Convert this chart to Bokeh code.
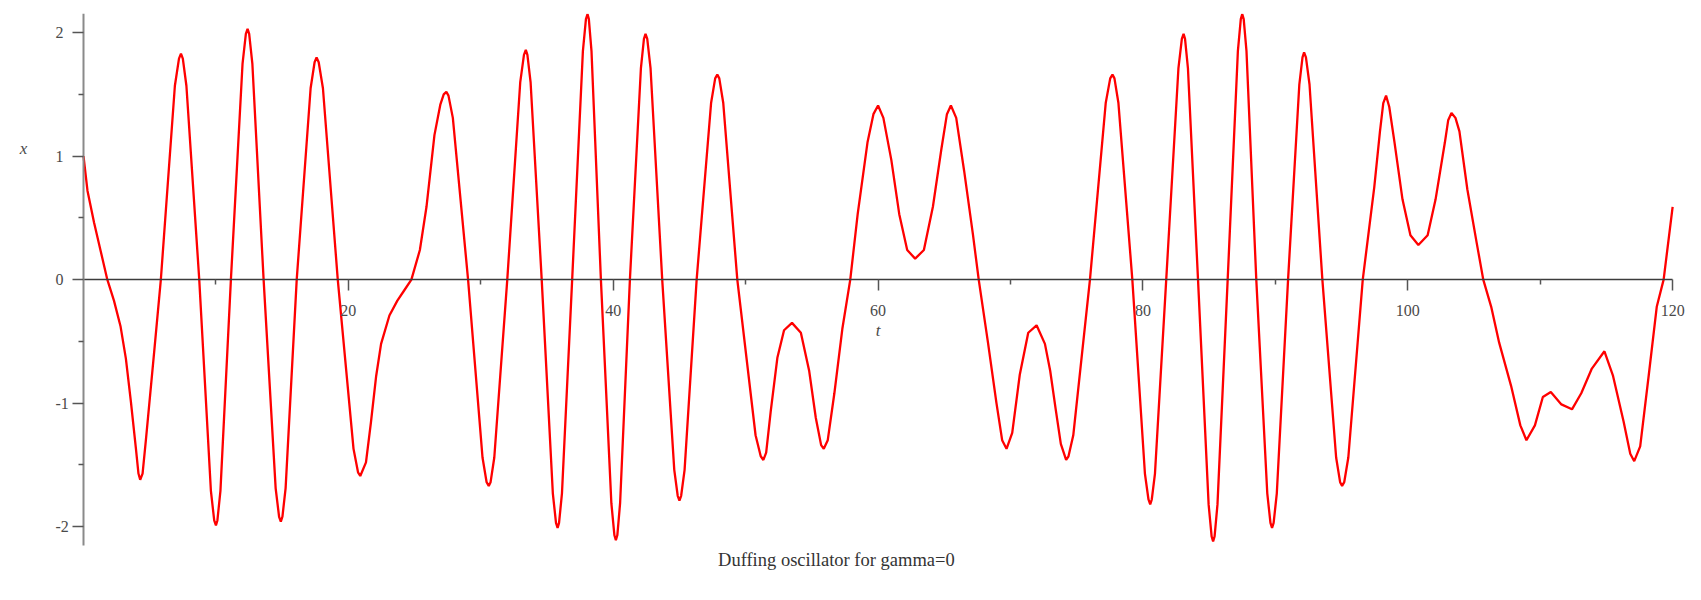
from bokeh.plotting import figure
from bokeh.models import Range1d, LinearAxis, FixedTicker, Label
from bokeh.embed import file_html
from bokeh.resources import INLINE

# ---- data (t, x) ----
t_vals = [0, 0.3, 0.8, 1.3, 1.8, 2.3, 2.8, 3.2, 3.58, 3.95, 4.15, 4.28, 4.46, 4.71, 5.34, 5.84,
          6.90, 7.21, 7.36, 7.50, 7.77, 8.74, 9.62, 9.87, 10.00, 10.11, 10.34, 11.13,
          12.01, 12.26, 12.39, 12.51, 12.75, 13.60, 14.51, 14.77, 14.90, 15.02, 15.26, 16.10,
          17.15, 17.45, 17.60, 17.76, 18.08, 19.20, 20.39, 20.73, 20.90, 21.33, 21.70, 22.10,
          22.47, 23.10, 23.70, 24.20, 24.76, 25.40, 25.90, 26.50, 26.95, 27.20, 27.40, 27.56,
          27.89, 29.04, 30.13, 30.44, 30.60, 30.74, 31.02, 32.00, 32.98, 33.26, 33.40, 33.52,
          33.76, 34.60, 35.44, 35.68, 35.80, 35.91, 36.13, 36.90, 37.71, 37.94, 38.06, 38.16,
          38.36, 39.07, 39.86, 40.09, 40.20, 40.31, 40.52, 41.26, 42.09, 42.32, 42.44, 42.57,
          42.82, 43.70, 44.61, 44.87, 45.00, 45.13, 45.39, 46.30, 47.39, 47.70, 47.86, 48.01,
          48.31, 49.37, 50.75, 51.14, 51.34, 51.55, 51.90, 52.40, 52.90, 53.50, 54.17, 54.80,
          55.30, 55.70, 55.90, 56.20, 56.70, 57.30, 57.90, 58.46, 59.20, 59.65, 60.00, 60.40,
          61.00, 61.60, 62.20, 62.80, 63.46, 64.14, 64.77, 65.20, 65.50, 65.90, 66.50, 67.17,
          67.60, 68.30, 68.94, 69.37, 69.70, 70.13, 70.70, 71.34, 71.97, 72.60, 73.00, 73.40,
          73.80, 74.20, 74.38, 74.74, 76.00, 77.19, 77.53, 77.70, 77.85, 78.15, 79.20, 80.15,
          80.42, 80.55, 80.67, 80.91, 81.76, 82.68, 82.94, 83.07, 83.18, 83.40, 84.16, 84.96,
          85.19, 85.30, 85.41, 85.63, 86.40, 87.17, 87.39, 87.50, 87.61, 87.82, 88.56, 89.39,
          89.63, 89.75, 89.87, 90.11, 90.96, 91.81, 92.05, 92.17, 92.31, 92.58, 93.55, 94.59,
          94.89, 95.04, 95.20, 95.51, 96.60, 97.47, 97.90, 98.15, 98.36, 98.60, 99.00, 99.60,
          100.20, 100.80, 101.50, 102.10, 102.80, 103.05, 103.30, 103.60, 103.90, 104.50,
          105.20, 105.70, 106.30, 106.90, 107.80, 108.50, 108.96, 109.60, 110.20, 110.80,
          111.60, 112.40, 113.10, 113.90, 114.85, 115.50, 116.30, 116.80, 117.10, 117.55,
          118.20, 118.80, 119.32, 120.00]
x_vals = [1.00, 0.72, 0.46, 0.23, 0.00, -0.17, -0.38, -0.64, -0.99, -1.36, -1.57, -1.62, -1.57, -1.30, -0.58, 0.00,
          1.57, 1.79, 1.83, 1.79, 1.57, 0.00, -1.71, -1.95, -1.99, -1.95, -1.71, 0.00,
          1.75, 1.99, 2.03, 1.99, 1.75, 0.00, -1.69, -1.92, -1.96, -1.92, -1.69, 0.00,
          1.55, 1.76, 1.80, 1.76, 1.55, 0.00, -1.37, -1.56, -1.59, -1.48, -1.16, -0.78,
          -0.52, -0.29, -0.17, -0.09, 0.00, 0.24, 0.59, 1.17, 1.42, 1.50, 1.52, 1.49,
          1.31, 0.00, -1.44, -1.64, -1.67, -1.64, -1.44, 0.00, 1.60, 1.82, 1.86, 1.82,
          1.60, 0.00, -1.73, -1.97, -2.01, -1.97, -1.73, 0.00, 1.85, 2.11, 2.15, 2.11,
          1.85, 0.00, -1.81, -2.07, -2.11, -2.07, -1.81, 0.00, 1.71, 1.95, 1.99, 1.95,
          1.71, 0.00, -1.54, -1.75, -1.79, -1.75, -1.54, 0.00, 1.43, 1.63, 1.66, 1.63,
          1.43, 0.00, -1.26, -1.43, -1.46, -1.40, -1.06, -0.63, -0.41, -0.35, -0.43, -0.74,
          -1.12, -1.34, -1.37, -1.30, -0.92, -0.40, 0.00, 0.53, 1.11, 1.34, 1.41, 1.31,
          0.97, 0.53, 0.24, 0.17, 0.24, 0.59, 1.05, 1.34, 1.41, 1.31, 0.88, 0.36,
          0.00, -0.51, -1.00, -1.30, -1.37, -1.24, -0.77, -0.43, -0.37, -0.52, -0.74, -1.04,
          -1.33, -1.46, -1.43, -1.26, 0.00, 1.43, 1.63, 1.66, 1.63, 1.43, 0.00, -1.57,
          -1.78, -1.82, -1.78, -1.57, 0.00, 1.71, 1.95, 1.99, 1.95, 1.71, 0.00, -1.82,
          -2.08, -2.12, -2.08, -1.82, 0.00, 1.85, 2.11, 2.15, 2.11, 1.85, 0.00, -1.73,
          -1.97, -2.01, -1.97, -1.73, 0.00, 1.58, 1.80, 1.84, 1.80, 1.58, 0.00, -1.44,
          -1.64, -1.67, -1.64, -1.44, 0.00, 0.75, 1.20, 1.43, 1.49, 1.40, 1.11, 0.65,
          0.36, 0.28, 0.36, 0.65, 1.11, 1.29, 1.35, 1.31, 1.20, 0.73,
          0.30, 0.00, -0.22, -0.51, -0.86, -1.18, -1.30, -1.18, -0.95, -0.91,
          -1.01, -1.05, -0.92, -0.72, -0.58, -0.78, -1.15, -1.41, -1.47, -1.35,
          -0.77, -0.22, 0.00, 0.59]

x_major = [20, 40, 60, 80, 100, 120]
x_minor = [10, 30, 50, 70, 90, 110]
y_major = [-2, -1, 0, 1, 2]
y_minor = [-1.5, -0.5, 0.5, 1.5]
y_labels = {-2: "-2", -1: "-1", 0: "0", 1: "1", 2: "2"}
title_text = "Duffing oscillator for gamma=0"

SERIF = "Liberation Serif"
LABEL_COLOR = "#4a4a4a"

# frame covers page x 10..1692 and y 13..590; t = 0 sits at page x 83
p = figure(frame_width=1682, frame_height=577,
           x_range=Range1d(-5.513, 121.5), y_range=Range1d(-2.517, 2.155),
           output_backend="svg", toolbar_location=None,
           x_axis_location=None, y_axis_location=None,
           min_border_left=10, min_border_right=2,
           min_border_top=13, min_border_bottom=0)
p.grid.visible = False
p.outline_line_color = None
p.background_fill_color = "white"
p.border_fill_color = "white"

# vertical axis crossing at t = 0 (ticks and labels turned to the left side)
yaxis = LinearAxis(fixed_location=0, bounds=(-2.15, 2.155),
                   ticker=FixedTicker(ticks=y_major, minor_ticks=y_minor),
                   major_label_overrides=y_labels,
                   axis_line_color="#8a8a8a", axis_line_width=2,
                   major_tick_out=0, major_tick_in=11,
                   minor_tick_out=0, minor_tick_in=5,
                   major_tick_line_color="#555555", minor_tick_line_color="#555555",
                   major_tick_line_width=1.5, minor_tick_line_width=1.5,
                   major_label_text_font=SERIF, major_label_text_font_size="16px",
                   major_label_text_color=LABEL_COLOR, major_label_text_align="right",
                   major_label_standoff=-28)
p.add_layout(yaxis, "right")

# horizontal axis crossing at x = 0 (ticks and labels turned below the line)
xaxis = LinearAxis(fixed_location=0, bounds=(0, 120),
                   ticker=FixedTicker(ticks=x_major, minor_ticks=x_minor),
                   axis_line_color="#3c3c3c", axis_line_width=1.5,
                   major_tick_out=0, major_tick_in=11,
                   minor_tick_out=0, minor_tick_in=5,
                   major_tick_line_color="#555555", minor_tick_line_color="#555555",
                   major_tick_line_width=1.5, minor_tick_line_width=1.5,
                   major_label_text_font=SERIF, major_label_text_font_size="16px",
                   major_label_text_color=LABEL_COLOR, major_label_standoff=-36)
p.add_layout(xaxis, "above")

p.line(t_vals, x_vals, line_color="#ff0000", line_width=2.3)

p.add_layout(Label(x=-4.53, y=1.06, text="x", text_font=SERIF, text_font_style="italic",
                   text_font_size="17px", text_color=LABEL_COLOR,
                   text_align="center", text_baseline="middle"))
p.add_layout(Label(x=60, y=-0.41, text="t", text_font=SERIF, text_font_style="italic",
                   text_font_size="17px", text_color=LABEL_COLOR,
                   text_align="center", text_baseline="middle"))
p.add_layout(Label(x=56.85, y=-2.267, text=title_text, text_font=SERIF,
                   text_font_size="18.5px", text_color="#333333",
                   text_align="center", text_baseline="middle"))

open("out.html", "w").write(file_html(p, INLINE))
